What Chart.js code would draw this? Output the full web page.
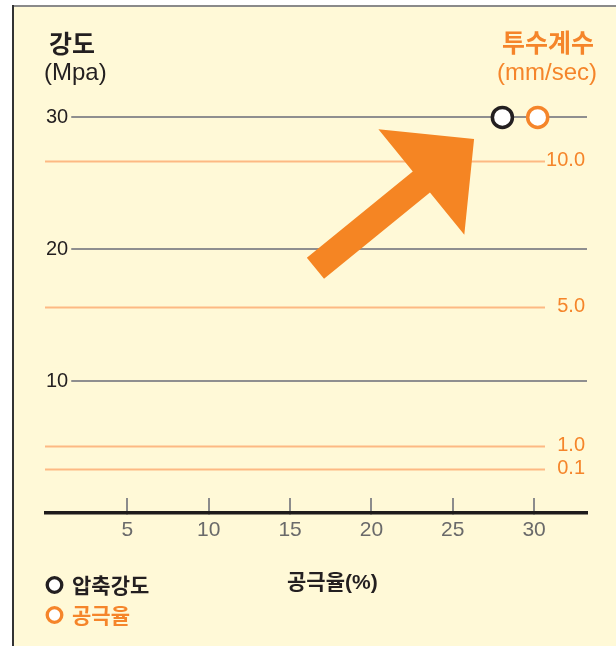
<!DOCTYPE html>
<html>
<head>
<meta charset="utf-8">
<script src="https://cdn.jsdelivr.net/npm/chart.js@4.4.1/dist/chart.umd.min.js"></script>
<style>
  html, body { margin: 0; padding: 0; background: #fff; }
  canvas { display: block; }
</style>
</head>
<body>
<canvas id="chart" width="616" height="646"></canvas>
<script>
// values
const seriesNames = ['압축강도', '공극율'];
const strengthPoints = [{ x: 28.05, y: 30 }];
const porosityPoints = [{ x: 30.22, y: 30 }];
const xTicks = [5, 10, 15, 20, 25, 30];
const strengthTicks = [10, 20, 30];
const permLabels = ['10.0', '5.0', '1.0', '0.1'];
const permAt = [26.71, 15.64, 5.10, 3.34]; // where each permeability label sits on the strength scale
const arrowFrom = { x: 16.56, y: 18.56 };
const arrowTo = { x: 26.31, y: 28.36 };
const yTitle = ['강도', '(Mpa)'];
const y2Title = ['투수계수', '(mm/sec)'];
const xTitle = '공극율(%)';

const CREAM = '#fff9d7';
const ORANGE = '#f5852a';
const DARK = '#231f20';
const LATIN = '"Liberation Sans", "Noto Sans CJK KR", sans-serif';
const KR = '"Noto Sans CJK KR", sans-serif';

// background + frame
const framePlugin = {
  id: 'frame',
  beforeDraw(chart) {
    const ctx = chart.ctx;
    ctx.save();
    ctx.fillStyle = '#fff';
    ctx.fillRect(0, 0, chart.width, chart.height);
    ctx.fillStyle = CREAM;
    ctx.fillRect(12, 5, chart.width - 12, chart.height - 5);
    ctx.strokeStyle = '#8a8a8a';
    ctx.lineWidth = 2;
    ctx.beginPath();
    ctx.moveTo(12, 6);
    ctx.lineTo(chart.width, 6);
    ctx.stroke();
    ctx.strokeStyle = '#333';
    ctx.beginPath();
    ctx.moveTo(13, 5);
    ctx.lineTo(13, chart.height);
    ctx.stroke();
    ctx.restore();
  }
};

// orange permeability lines + the big arrow
const overlayPlugin = {
  id: 'overlay',
  beforeDatasetsDraw(chart) {
    const ctx = chart.ctx;
    const area = chart.chartArea;
    const xs = chart.scales.x, y = chart.scales.y, y2 = chart.scales.y2;
    ctx.save();
    ctx.strokeStyle = '#fdb983';
    ctx.lineWidth = 2;
    y2.ticks.forEach(t => {
      const py = Math.round(y2.getPixelForValue(t.value)) + 0.5;
      ctx.beginPath();
      ctx.moveTo(area.left - 1, py);
      ctx.lineTo(area.right - 42, py);
      ctx.stroke();
    });

    // arrow
    const x0 = xs.getPixelForValue(arrowFrom.x), y0 = y.getPixelForValue(arrowFrom.y);
    const x1 = xs.getPixelForValue(arrowTo.x), y1 = y.getPixelForValue(arrowTo.y);
    const len = Math.hypot(x1 - x0, y1 - y0);
    const ux = (x1 - x0) / len, uy = (y1 - y0) / len;
    const nx = -uy, ny = ux;
    const shaft = 13.6, head = 68, headLen = 68;
    const bx = x1 - ux * headLen, by = y1 - uy * headLen;
    ctx.fillStyle = '#f58523';
    ctx.beginPath();
    ctx.moveTo(x0 + nx * shaft, y0 + ny * shaft);
    ctx.lineTo(bx + nx * shaft, by + ny * shaft);
    ctx.lineTo(bx + nx * head, by + ny * head);
    ctx.lineTo(x1, y1);
    ctx.lineTo(bx - nx * head, by - ny * head);
    ctx.lineTo(bx - nx * shaft, by - ny * shaft);
    ctx.lineTo(x0 - nx * shaft, y0 - ny * shaft);
    ctx.closePath();
    ctx.fill();
    ctx.restore();
  }
};

// titles and legend
const textPlugin = {
  id: 'texts',
  afterDraw(chart) {
    const ctx = chart.ctx;
    ctx.save();
    ctx.textBaseline = 'middle';

    ctx.fillStyle = DARK;
    ctx.textAlign = 'left';
    ctx.font = 'bold 25px ' + KR;
    ctx.fillText(yTitle[0], 49, 43);
    ctx.font = '24px ' + LATIN;
    ctx.fillText(yTitle[1], 44, 73);

    ctx.fillStyle = ORANGE;
    ctx.textAlign = 'right';
    ctx.font = 'bold 25px ' + KR;
    ctx.fillText(y2Title[0], 594, 42);
    ctx.font = '24px ' + LATIN;
    ctx.fillText(y2Title[1], 597, 73);

    ctx.fillStyle = DARK;
    ctx.textAlign = 'left';
    ctx.font = 'bold 21px ' + LATIN;
    ctx.fillText(xTitle, 287, 583);

    chart.data.datasets.forEach((ds, i) => {
      const cy = 585 + i * 30;
      ctx.beginPath();
      ctx.arc(54.5, cy, 7.3, 0, Math.PI * 2);
      ctx.fillStyle = '#fff';
      ctx.fill();
      ctx.lineWidth = 3.3;
      ctx.strokeStyle = ds.borderColor;
      ctx.stroke();
      ctx.fillStyle = ds.borderColor;
      ctx.font = 'bold 21px ' + KR;
      ctx.fillText(ds.label, 72, cy);
    });
    ctx.restore();
  }
};

new Chart(document.getElementById('chart'), {
  type: 'scatter',
  data: {
    datasets: [
      {
        label: seriesNames[0],
        data: strengthPoints,
        borderColor: DARK,
        backgroundColor: '#fff',
        pointRadius: 10,
        pointBorderWidth: 3.5
      },
      {
        label: seriesNames[1],
        data: porosityPoints,
        borderColor: ORANGE,
        backgroundColor: '#fff',
        pointRadius: 10,
        pointBorderWidth: 3.5
      }
    ]
  },
  options: {
    responsive: false,
    animation: false,
    events: [],
    layout: { padding: { left: 46, right: 29, top: 91, bottom: 103 } },
    plugins: { legend: { display: false }, tooltip: { enabled: false } },
    scales: {
      x: {
        type: 'linear',
        min: 0,
        max: 33.25,
        afterBuildTicks: s => { s.ticks = xTicks.map(v => ({ value: v })); },
        afterFit: s => { s.height = 30; },
        border: { display: true, color: '#1e1b1b', width: 3.5 },
        grid: { drawOnChartArea: false, drawTicks: true, tickLength: -15, color: '#8c8c8c', lineWidth: 2 },
        ticks: { padding: 20, color: '#6a6a6a', font: { family: LATIN, size: 21 } }
      },
      y: {
        type: 'linear',
        position: 'left',
        min: 0,
        max: 32,
        afterBuildTicks: s => { s.ticks = strengthTicks.map(v => ({ value: v })); },
        afterFit: s => { s.width = 0; },
        border: { display: false },
        grid: { drawTicks: false, color: '#8f8f8f', lineWidth: 2 },
        ticks: {
          mirror: true,
          padding: 0,
          color: DARK,
          font: { family: LATIN, size: 20 },
          showLabelBackdrop: true,
          backdropColor: CREAM,
          backdropPadding: { top: 2, bottom: 2, left: 0, right: 3 }
        }
      },
      y2: {
        type: 'linear',
        position: 'right',
        min: 0,
        max: 32,
        afterBuildTicks: s => { s.ticks = permAt.map(v => ({ value: v })); },
        afterFit: s => { s.width = 0; },
        border: { display: false },
        grid: { display: false },
        ticks: {
          mirror: true,
          padding: -2,
          color: ORANGE,
          font: { family: LATIN, size: 20 },
          callback: (v, i) => permLabels[i]
        }
      }
    }
  },
  plugins: [framePlugin, overlayPlugin, textPlugin]
});
</script>
</body>
</html>
